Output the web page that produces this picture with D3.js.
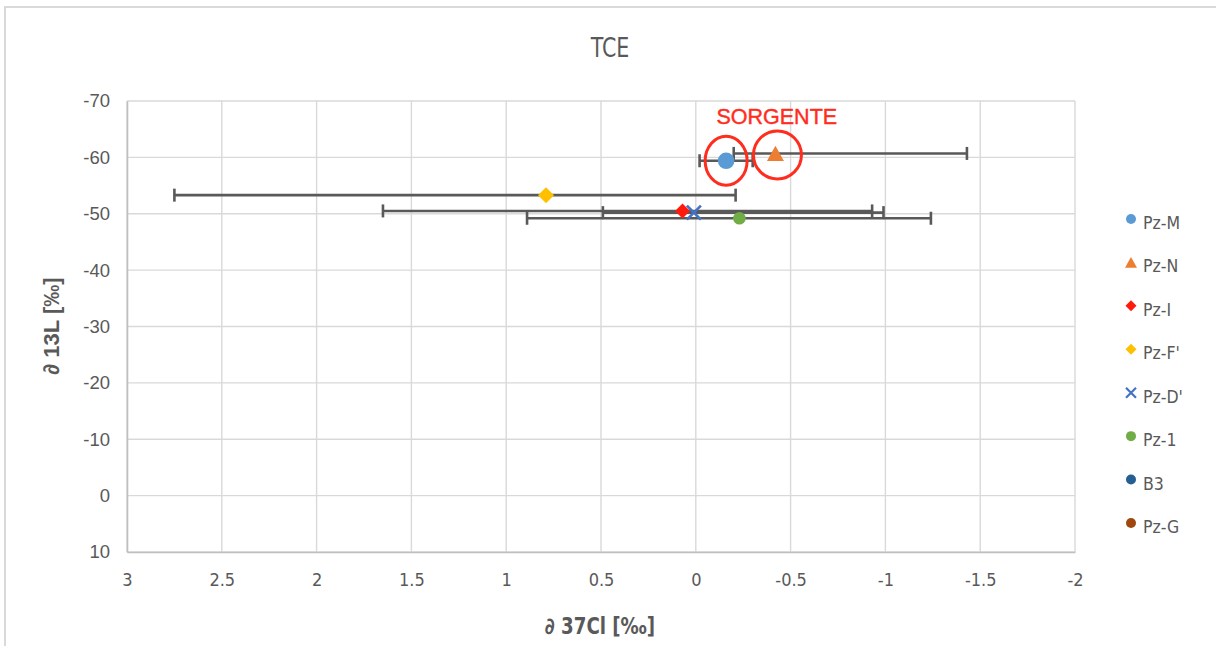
<!DOCTYPE html>
<html>
<head>
<meta charset="utf-8">
<script src="https://cdn.jsdelivr.net/npm/d3@7"></script>
<style>
  html, body { margin: 0; padding: 0; background: #ffffff; }
  svg { display: block; }
</style>
</head>
<body>
<svg id="chart" width="1216" height="646"></svg>
<script>
// ---- data -------------------------------------------------------------
const seriesNames = ["Pz-M", "Pz-N", "Pz-I", "Pz-F'", "Pz-D'", "Pz-1", "B3", "Pz-G"];
// δ37Cl [‰] (x) and δ13C [‰] (y) per sampling point; B3 and Pz-G have no values
const cl37 = [-0.16, -0.42, 0.07, 0.79, 0.01, -0.23, null, null];
const c13  = [-59.4, -60.7, -50.5, -53.3, -50.2, -49.2, null, null];
// horizontal error extents: towards positive and towards negative δ37Cl
const cl37ErrPos = [0.14, 0.22, 1.58, 1.96, 0.48, 1.12, null, null];
const cl37ErrNeg = [0.14, 1.01, 1.00, 1.00, 1.00, 1.01, null, null];
// points marked as source
const sourceNames = ["Pz-M", "Pz-N"];

const xTickValues = [3, 2.5, 2, 1.5, 1, 0.5, 0, -0.5, -1, -1.5, -2];
const xTickLabels = ["3", "2.5", "2", "1.5", "1", "0.5", "0", "-0.5", "-1", "-1.5", "-2"];
const yTickValues = [-70, -60, -50, -40, -30, -20, -10, 0, 10];
const yTickLabels = ["-70", "-60", "-50", "-40", "-30", "-20", "-10", "0", "10"];

// ---- styles -----------------------------------------------------------
const seriesStyle = {
  "Pz-M":  { color: "#5b9bd5", shape: "circle",   size: 8.3 },
  "Pz-N":  { color: "#ed7d31", shape: "triangle", size: 8.5 },
  "Pz-I":  { color: "#ff1a0d", shape: "diamond",  size: 7.5 },
  "Pz-F'": { color: "#ffc000", shape: "diamond",  size: 8 },
  "Pz-D'": { color: "#4472c4", shape: "cross",    size: 7 },
  "Pz-1":  { color: "#70ad47", shape: "circle",   size: 6.3 },
  "B3":    { color: "#255e91", shape: "circle",   size: 6 },
  "Pz-G":  { color: "#9e480e", shape: "circle",   size: 6 }
};
const legendSize = { circle: 5, triangle: 6, diamond: 5.5, cross: 5 };

const condensed = "'DejaVu Sans Condensed', 'Liberation Sans', sans-serif";
const sans = "'Liberation Sans', Arial, sans-serif";
const textGray = "#595959";

// ---- layout -----------------------------------------------------------
const svg = d3.select("#chart");
const plot = { left: 127, right: 1075, top: 101, bottom: 552 };

const x = d3.scaleLinear().domain([3, -2]).range([plot.left, plot.right]);
const y = d3.scaleLinear().domain([-70, 10]).range([plot.top, plot.bottom]);

// outer chart frame
svg.append("rect")
  .attr("x", 5).attr("y", 7)
  .attr("width", 1230).attr("height", 660)
  .attr("fill", "#fff")
  .attr("stroke", "#d9d9d9").attr("stroke-width", 2);

// title
svg.append("text")
  .attr("x", 610).attr("y", 57)
  .attr("text-anchor", "middle")
  .attr("font-family", condensed)
  .attr("font-size", 27)
  .attr("fill", textGray)
  .attr("transform", "translate(610,0) scale(0.85,1) translate(-610,0)")
  .text("TCE");

// gridlines
const grid = svg.append("g");
grid.selectAll("line.v").data(xTickValues).join("line")
  .attr("x1", d => x(d)).attr("x2", d => x(d))
  .attr("y1", plot.top).attr("y2", plot.bottom)
  .attr("stroke", "#d9d9d9").attr("stroke-width", 1.4);
grid.selectAll("line.h").data(yTickValues).join("line")
  .attr("x1", plot.left).attr("x2", plot.right)
  .attr("y1", d => y(d)).attr("y2", d => y(d))
  .attr("stroke", "#d9d9d9").attr("stroke-width", 1.4);

// axes
const xAxis = d3.axisBottom(x)
  .tickValues(xTickValues)
  .tickSize(0).tickPadding(21)
  .tickFormat((d, i) => xTickLabels[i]);
const yAxis = d3.axisLeft(y)
  .tickValues(yTickValues)
  .tickSize(0).tickPadding(17)
  .tickFormat((d, i) => yTickLabels[i]);

const gx = svg.append("g")
  .attr("transform", `translate(0,${plot.bottom})`)
  .call(xAxis);
gx.select(".domain").attr("stroke", "#bfbfbf").attr("stroke-width", 1.6);
gx.selectAll("text")
  .attr("font-family", condensed).attr("font-size", 18)
  .attr("fill", textGray);

const gy = svg.append("g")
  .attr("transform", `translate(${plot.left},0)`)
  .call(yAxis);
gy.select(".domain").attr("stroke", "#bfbfbf").attr("stroke-width", 1.6);
gy.selectAll("text")
  .attr("font-family", sans).attr("font-size", 18.5)
  .attr("fill", textGray);

// axis titles
svg.append("text")
  .attr("x", 600).attr("y", 634)
  .attr("text-anchor", "middle")
  .attr("font-family", condensed).attr("font-size", 23).attr("font-weight", "bold")
  .attr("fill", textGray)
  .attr("transform", "translate(600,0) scale(0.88,1) translate(-600,0)")
  .text("∂ 37Cl [‰]");

svg.append("text")
  .attr("transform", "translate(59,326) rotate(-90)")
  .attr("text-anchor", "middle")
  .attr("font-family", sans).attr("font-size", 22).attr("font-weight", "bold")
  .attr("fill", textGray)
  .text("∂ 13L [‰]");

// ---- points -----------------------------------------------------------
const points = seriesNames.map((name, i) => ({
  name, x: cl37[i], y: c13[i], pos: cl37ErrPos[i], neg: cl37ErrNeg[i]
})).filter(d => d.x != null && d.y != null);

function shapePath(shape, s) {
  switch (shape) {
    case "triangle": {
      const h = s * 1.8, w = s * 2;
      return `M0,${-h / 2}L${w / 2},${h / 2}L${-w / 2},${h / 2}Z`;
    }
    case "diamond":
      return `M0,${-s}L${s},0L0,${s}L${-s},0Z`;
    case "cross":
      return `M${-s},${-s}L${s},${s}M${s},${-s}L${-s},${s}`;
    default:
      return d3.symbol(d3.symbolCircle, Math.PI * s * s)();
  }
}

// horizontal error bars
const capH = 6.5;
const errG = svg.append("g")
  .attr("stroke", "#595959").attr("stroke-width", 2.6).attr("fill", "none");
points.forEach(d => {
  const xa = x(d.x + d.pos), xb = x(d.x - d.neg), yy = y(d.y);
  errG.append("line").attr("x1", xa).attr("x2", xb).attr("y1", yy).attr("y2", yy);
  errG.append("line").attr("x1", xa).attr("x2", xa).attr("y1", yy - capH).attr("y2", yy + capH);
  errG.append("line").attr("x1", xb).attr("x2", xb).attr("y1", yy - capH).attr("y2", yy + capH);
});

// markers
const markG = svg.append("g");
points.forEach(d => {
  const st = seriesStyle[d.name];
  const p = markG.append("path")
    .attr("transform", `translate(${x(d.x)},${y(d.y)})`)
    .attr("d", shapePath(st.shape, st.size));
  if (st.shape === "cross") {
    p.attr("fill", "none").attr("stroke", st.color).attr("stroke-width", 2.6);
  } else {
    p.attr("fill", st.color);
  }
});

// ---- source annotation ------------------------------------------------
const srcPts = points.filter(d => sourceNames.includes(d.name));
const annG = svg.append("g").attr("fill", "none").attr("stroke", "#ff2d1e").attr("stroke-width", 3);
annG.append("ellipse")
  .attr("cx", x(srcPts[0].x)).attr("cy", y(srcPts[0].y))
  .attr("rx", 21).attr("ry", 24.5);
annG.append("ellipse")
  .attr("cx", x(srcPts[1].x) + 2).attr("cy", y(srcPts[1].y) + 1.5)
  .attr("rx", 24).attr("ry", 24);
svg.append("text")
  .attr("x", (x(srcPts[0].x) + x(srcPts[1].x)) / 2 + 26)
  .attr("y", 124)
  .attr("text-anchor", "middle")
  .attr("font-family", sans).attr("font-size", 21.5)
  .attr("stroke", "#ff2d1e").attr("stroke-width", 0.4)
  .attr("fill", "#ff2d1e")
  .text("SORGENTE");

// ---- legend -----------------------------------------------------------
const legend = svg.append("g").attr("transform", "translate(1131,0)");
const legendY = d3.scalePoint().domain(seriesNames).range([219, 523]);
seriesNames.forEach(name => {
  const st = seriesStyle[name];
  const yy = legendY(name);
  const p = legend.append("path")
    .attr("transform", `translate(0,${yy})`)
    .attr("d", shapePath(st.shape, legendSize[st.shape]));
  if (st.shape === "cross") {
    p.attr("fill", "none").attr("stroke", st.color).attr("stroke-width", 2.2);
  } else {
    p.attr("fill", st.color);
  }
  legend.append("text")
    .attr("x", 12).attr("y", yy + 10)
    .attr("font-family", condensed).attr("font-size", 17.5)
    .attr("fill", textGray)
    .text(name);
});
</script>
</body>
</html>
